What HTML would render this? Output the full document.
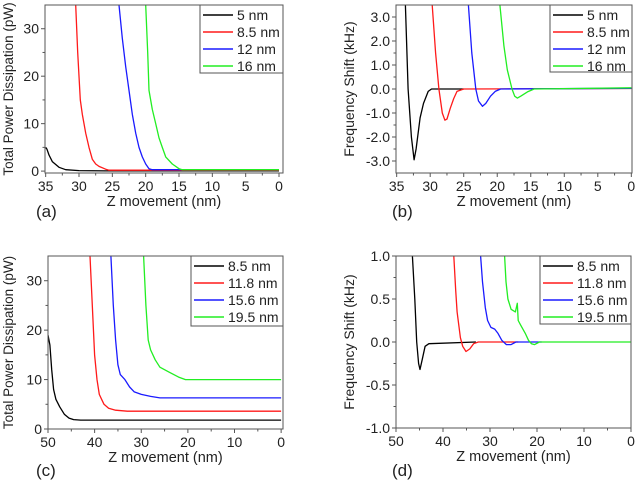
<!DOCTYPE html>
<html><head><meta charset="utf-8"><style>
html,body{margin:0;padding:0;background:#fff;}
svg{display:block;font-family:"Liberation Sans",Arial,sans-serif;}
</style></head><body>
<svg id="fig" width="635" height="481" viewBox="0 0 635 481"></svg>
<script>
// ---- data (x in nm, y values) ----
const legendA = ["5 nm","8.5 nm","12 nm","16 nm"];
const aBlackX=[35,34.8,34.5,34,33,32,30,26,0], aBlackY=[5,4.6,3.4,2,0.8,0.3,0.1,0.05,0.05];
const aRedX=[30.5,30.2,29.8,29.5,29,28.5,28,27.5,27,26,25.5,0], aRedY=[35,25,15,12,8,5,2.5,1.5,1,0.4,0.2,0.2];
const aBlueX=[24,23.5,23,22.5,22,21.5,21,20.5,20,19.5,19,0], aBlueY=[35,28,22,17,12,8,5,3,1.5,0.5,0.3,0.3];
const aGreenX=[20,19.7,19.5,19,18.5,18,17.5,17,16,15,14.5,0], aGreenY=[35,25,17,13,10,7,5,3,1.5,0.5,0.3,0.3];

const legendB = ["5 nm","8.5 nm","12 nm","16 nm"];
const bBlackX=[33.7,33.3,32.8,32.4,32.1,31.5,31,30.3,29.8,25], bBlackY=[3.5,0,-2,-2.95,-2.5,-1.2,-0.6,-0.1,0,0];
const bRedX=[29.7,29.2,28.7,28.2,27.8,27.5,27,26.5,26,25,0], bRedY=[3.5,1.5,0,-1,-1.3,-1.25,-0.8,-0.4,-0.1,0,0.02];
const bBlueX=[24.3,23.8,23.2,22.8,22.2,21.7,21,20.3,19.5,0], bBlueY=[3.5,1.5,0,-0.5,-0.72,-0.6,-0.3,-0.1,0,0.03];
const bGreenX=[19.6,19,18.5,17.8,17.4,17,16.5,15.5,14.5,0], bGreenY=[3.5,1.8,0.8,0,-0.3,-0.38,-0.3,-0.12,0,0.05];

const legendC = ["8.5 nm","11.8 nm","15.6 nm","19.5 nm"];
const cBlackX=[50,49.6,49.2,48.8,48.3,47.5,46.5,45.5,44.5,43,0], cBlackY=[19,17,12,8,6,4.5,3,2.2,1.9,1.8,1.8];
const cRedX=[41,40.5,40,39.5,39,38.5,38,37,35.5,33,0], cRedY=[35,25,15,10,7,6,5,4.2,3.8,3.6,3.6];
const cBlueX=[36.5,36,35.5,35,34.5,33.5,32.5,31.5,30,28,26,0], cBlueY=[35,25,18,13,11,10,8.5,7.5,7,6.6,6.3,6.3];
const cGreenX=[29.5,29,28.5,28,27,26,24,22,20.5,0], cGreenY=[35,25,18,16,14,12.5,11.5,10.5,10,10];

const legendD = ["8.5 nm","11.8 nm","15.6 nm","19.5 nm"];
const dBlackX=[46.5,46,45.6,45.2,44.9,44.4,43.8,43,33], dBlackY=[1,0.5,0,-0.25,-0.32,-0.2,-0.05,-0.02,0];
const dRedX=[37.7,37.3,37,36.3,35.8,35.1,34.3,33.5,32.5,24], dRedY=[1,0.6,0.35,0.05,-0.05,-0.11,-0.08,-0.02,0,0];
const dBlueX=[32,31.6,31,30.5,29.8,29,28.3,27.5,26.5,25.5,24.5,19], dBlueY=[1,0.7,0.4,0.25,0.17,0.15,0.1,0.02,-0.03,-0.03,0,0];
const dGreenX=[26.9,26.6,26.2,25.5,24.6,24.2,24,23.5,22.5,21.8,21.2,20.5,19.5,0], dGreenY=[1,0.7,0.5,0.38,0.35,0.45,0.25,0.2,0.1,0.02,-0.02,-0.03,0,0];

const xTicksAB=[35,30,25,20,15,10,5,0];
const xTicksCD=[50,40,30,20,10,0];
const yTicksAC=[0,10,20,30];
const yTicksB=[-3,-2,-1,0,1,2,3];
const yTicksD=[-1,-0.5,0,0.5,1];

const colors=["#000000","#ff1a1a","#1a1aff","#22ee22"];
const NS="http://www.w3.org/2000/svg";
const svg=document.getElementById('fig');
function mk(tag,attrs,parent){const e=document.createElementNS(NS,tag);for(const k in attrs)e.setAttribute(k,attrs[k]);(parent||svg).appendChild(e);return e;}

function panel(p){
  const g=mk('g',{});
  
  
  const sx=v=>p.L+(p.xd[0]-v)/(p.xd[0]-p.xd[1])*(p.R-p.L);
  const sy=v=>p.B-(v-p.yd[0])/(p.yd[1]-p.yd[0])*(p.B-p.T);
  const cid='clip-'+p.name;
  const cp=mk('clipPath',{id:cid},g);
  mk('rect',{x:p.L,y:p.T,width:p.R-p.L,height:p.B-p.T},cp);
  p.series.forEach((s,i)=>{
    const pts=s[0].map((x,j)=>sx(x).toFixed(1)+','+sy(s[1][j]).toFixed(1)).join(' ');
    const pl=mk('polyline',{points:pts,fill:'none',stroke:colors[i],'stroke-width':1.3,'clip-path':'url(#'+cid+')','stroke-linejoin':'round'},g);
    
    
  });
  const fr=mk('rect',{x:p.L,y:p.T,width:p.R-p.L,height:p.B-p.T,fill:'none',stroke:'#555','stroke-width':1},g);
  
  
  p.xt.forEach((t,i)=>{
    const x=sx(t);
    mk('line',{x1:x,x2:x,y1:p.B,y2:p.B+4,stroke:'#555'},g);
    if(i<p.xt.length-1){const xm=sx((t+p.xt[i+1])/2);mk('line',{x1:xm,x2:xm,y1:p.B,y2:p.B+2.5,stroke:'#555'},g);}
    const tx=mk('text',{x:x,y:p.B+18,'text-anchor':'middle','font-size':14,fill:'#222'},g);
    tx.textContent=String(t);
    
    
  });
  p.yt.forEach((t,i)=>{
    const y=sy(t);
    mk('line',{x1:p.L-4,x2:p.L,y1:y,y2:y,stroke:'#555'},g);
    if(i<p.yt.length-1){const ym=sy((t+p.yt[i+1])/2);mk('line',{x1:p.L-2.5,x2:p.L,y1:ym,y2:ym,stroke:'#555'},g);}
    const ty=mk('text',{x:p.L-6,y:y+5,'text-anchor':'end','font-size':14,fill:'#222'},g);
    ty.textContent=p.yfmt(t);
    
    
  });
  const xl=mk('text',{x:(p.L+p.R)/2,y:p.B+33,'text-anchor':'middle','font-size':14.5,fill:'#222'},g);
  xl.textContent='Z movement (nm)';
  
  
  const yl=mk('text',{x:0,y:0,'text-anchor':'middle','font-size':p.ylfs,fill:'#222',transform:'translate('+p.ylx+','+((p.T+p.B)/2)+') rotate(-90)'},g);
  yl.textContent=p.ytitle;
  
  
  const pl=mk('text',{x:p.lab[0],y:p.lab[1],'font-size':17,fill:'#222'},g);
  pl.textContent=p.label;
  
  
  const lg=mk('g',{},g);
  
  
  mk('rect',{x:p.lg[0],y:p.T,width:p.R-p.lg[0],height:p.lg[1]-p.T,fill:'#fff',stroke:'#555'},lg);
  p.legend.forEach((n,i)=>{
    const y=p.T+10+i*17;
    const e=mk('g',{},lg);
    
    
    mk('line',{x1:p.lg[0]+3,x2:p.lg[0]+33,y1:y,y2:y,stroke:colors[i],'stroke-width':1.5},e);
    const t=mk('text',{x:p.lg[0]+37,y:y+5,'font-size':14,fill:'#222'},e);
    t.textContent=n;
  });
}
const f1=v=>v.toFixed(1), f0=v=>String(v);
panel({name:'panel-a',L:45,R:283,T:5,B:173,xd:[35.1,-0.6],yd:[-0.4,35],xt:xTicksAB,yt:yTicksAC,yfmt:f0,ylx:13,ylfs:13.5,ytitle:'Total Power Dissipation  (pW)',label:'(a)',lab:[36,217],legend:legendA,lg:[200,73],
  series:[[aBlackX,aBlackY],[aRedX,aRedY],[aBlueX,aBlueY],[aGreenX,aGreenY]]});
panel({name:'panel-b',L:396,R:632,T:5,B:173,xd:[35.1,-0.1],yd:[-3.5,3.5],xt:xTicksAB,yt:yTicksB,yfmt:f1,ylx:354,ylfs:14,ytitle:'Frequency Shift (kHz)',label:'(b)',lab:[392,217],legend:legendB,lg:[550,72],
  series:[[bBlackX,bBlackY],[bRedX,bRedY],[bBlueX,bBlueY],[bGreenX,bGreenY]]});
panel({name:'panel-c',L:48,R:283,T:256,B:429,xd:[50,-0.4],yd:[0,35],xt:xTicksCD,yt:yTicksAC,yfmt:f0,ylx:13,ylfs:13.5,ytitle:'Total Power Dissipation  (pW)',label:'(c)',lab:[36,476],legend:legendC,lg:[191,326],
  series:[[cBlackX,cBlackY],[cRedX,cRedY],[cBlueX,cBlueY],[cGreenX,cGreenY]]});
panel({name:'panel-d',L:396,R:631,T:256,B:428,xd:[50,0],yd:[-1,1],xt:xTicksCD,yt:yTicksD,yfmt:f1,ylx:354,ylfs:14,ytitle:'Frequency Shift (kHz)',label:'(d)',lab:[392,476],legend:legendD,lg:[540,324],
  series:[[dBlackX,dBlackY],[dRedX,dRedY],[dBlueX,dBlueY],[dGreenX,dGreenY]]});
</script>
</body></html>
